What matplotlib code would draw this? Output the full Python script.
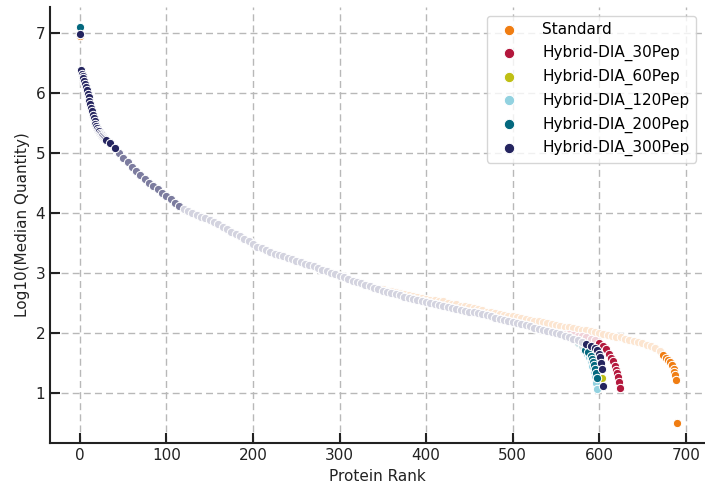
import matplotlib.pyplot as plt
from matplotlib.colors import to_rgb
import numpy as np


series_names = ['Standard', 'Hybrid-DIA_30Pep', 'Hybrid-DIA_60Pep',
                'Hybrid-DIA_120Pep', 'Hybrid-DIA_200Pep', 'Hybrid-DIA_300Pep']
series_colors = ['#F07D12', '#B3173C', '#BFBF14', '#92D2E0', '#03687E', '#24245F']

# value of the rank-0 protein for each series
first_value = [6.95, 6.98, 6.98, 6.98, 7.10, 6.98]

# shared steep head, ranks 1..29
head_rank = list(range(1, 30))
head_value = [6.38, 6.32, 6.28, 6.24, 6.19, 6.14, 6.09, 6.04, 5.98, 5.93,
              5.87, 5.81, 5.75, 5.69, 5.63, 5.58, 5.53, 5.48, 5.44, 5.41,
              5.38, 5.36, 5.34, 5.32, 5.30, 5.28, 5.27, 5.25, 5.24]

# shared body read every 5 ranks (30..570)
body_rank = list(range(30, 571, 5))
body_value = [5.22, 5.16, 5.09, 5.00, 4.92, 4.85, 4.77, 4.70, 4.63, 4.56,
              4.50, 4.45, 4.40, 4.34, 4.29, 4.23, 4.17, 4.12, 4.07, 4.03,
              4.00, 3.97, 3.94, 3.91, 3.88, 3.85, 3.81, 3.77, 3.73, 3.69,
              3.65, 3.61, 3.57, 3.53, 3.48, 3.44, 3.41, 3.38, 3.35, 3.32,
              3.30, 3.28, 3.26, 3.24, 3.21, 3.19, 3.16, 3.14, 3.12, 3.09,
              3.06, 3.03, 3.00, 2.98, 2.96, 2.93, 2.90, 2.87, 2.85, 2.83,
              2.81, 2.79, 2.76, 2.74, 2.71, 2.69, 2.67, 2.65, 2.63, 2.61,
              2.59, 2.57, 2.56, 2.54, 2.52, 2.50, 2.49, 2.47, 2.45, 2.43,
              2.42, 2.40, 2.39, 2.37, 2.36, 2.35, 2.33, 2.32, 2.30, 2.28,
              2.26, 2.24, 2.22, 2.21, 2.19, 2.17, 2.16, 2.14, 2.12, 2.09,
              2.07, 2.05, 2.04, 2.02, 2.01, 1.99, 1.96, 1.93, 1.90]

# last body rank used by each series before its own tail
body_end = [345, 550, 570, 570, 570, 570]

std_tail_rank = list(range(350, 671, 5)) + [674, 677, 680, 682, 684, 686, 687, 688, 689, 690]
std_tail_value = [2.73, 2.71, 2.70, 2.68, 2.67, 2.65, 2.63, 2.62, 2.60, 2.59,
                  2.57, 2.56, 2.55, 2.54, 2.53, 2.51, 2.49, 2.48, 2.46, 2.45,
                  2.43, 2.42, 2.40, 2.38, 2.36, 2.35, 2.33, 2.32, 2.30, 2.29,
                  2.28, 2.27, 2.25, 2.24, 2.22, 2.21, 2.20, 2.18, 2.17, 2.15,
                  2.14, 2.12, 2.11, 2.10, 2.08, 2.07, 2.06, 2.05, 2.03, 2.02,
                  2.01, 1.99, 1.97, 1.96, 1.94, 1.93, 1.91, 1.89, 1.87, 1.85,
                  1.83, 1.81, 1.78, 1.75, 1.70,
                  1.64, 1.59, 1.55, 1.52, 1.47, 1.40, 1.35, 1.30, 1.23, 0.50]

pep30_tail_rank = [555, 560, 565, 570, 575, 580, 585, 590, 595, 600, 605,
                   608, 611, 614, 616, 618, 620, 621, 622, 623, 624]
pep30_tail_value = [2.00, 1.99, 1.98, 1.97, 1.96, 1.95, 1.93, 1.91, 1.88, 1.84, 1.79,
                    1.73, 1.66, 1.59, 1.53, 1.46, 1.39, 1.33, 1.27, 1.19, 1.09]

pep60_tail_rank = [575, 580, 585, 590, 594, 597, 599, 601, 603]
pep60_tail_value = [1.88, 1.85, 1.81, 1.76, 1.68, 1.56, 1.45, 1.35, 1.25]

pep120_tail_rank = [575, 580, 583, 586, 588, 590, 592, 594, 595, 596, 597]
pep120_tail_value = [1.85, 1.78, 1.72, 1.65, 1.60, 1.53, 1.45, 1.36, 1.28, 1.18, 1.07]

pep200_tail_rank = [575, 580, 584, 587, 590, 592, 593, 594, 595, 596, 597]
pep200_tail_value = [1.84, 1.78, 1.72, 1.68, 1.62, 1.57, 1.52, 1.47, 1.41, 1.34, 1.26]

pep300_tail_rank = [575, 580, 585, 590, 595, 598, 600, 601, 602, 603, 604]
pep300_tail_value = [1.88, 1.85, 1.82, 1.79, 1.76, 1.72, 1.66, 1.61, 1.50, 1.40, 1.12]

tails = [(std_tail_rank, std_tail_value), (pep30_tail_rank, pep30_tail_value),
         (pep60_tail_rank, pep60_tail_value), (pep120_tail_rank, pep120_tail_value),
         (pep200_tail_rank, pep200_tail_value), (pep300_tail_rank, pep300_tail_value)]

# ranks where the overplotted band turns back into separate dots
thin_from = [672, 596, 582, 582, 582, 584]


def tint(color, f):
    '''mix a colour with white; f=1 keeps the colour'''
    c = np.array(to_rgb(color))
    return tuple(f * c + (1 - f))


def main():
    plt.rcParams['font.family'] = ['DejaVu Sans']
    fig, ax = plt.subplots(figsize=(7.05, 4.93), dpi=100)
    fig.subplots_adjust(left=0.071, right=1.0, bottom=0.101, top=0.986)

    for i, name in enumerate(series_names):
        color = series_colors[i]
        tr, tv = tails[i]
        n_body = sum(1 for r in body_rank if r <= body_end[i])
        rank = np.array([0] + head_rank + body_rank[:n_body] + tr)
        value = np.array([first_value[i]] + head_value + body_value[:n_body] + tv)

        # the original is so overplotted that white marker rims wash the band out;
        # mimic that with paler fills along the shallow part of the curve
        upper = (rank >= 45) & (rank < 120)
        flat = (rank >= 120) & (rank < thin_from[i])
        solid = ~(upper | flat)
        ax.scatter(rank[upper], value[upper], s=36, color=tint(color, 0.6),
                   edgecolor='white', linewidth=0.75, zorder=3 + i)
        ax.scatter(rank[flat], value[flat], s=36, color=tint(color, 0.2),
                   edgecolor='white', linewidth=0.75, zorder=3 + i)
        ax.scatter(rank[solid], value[solid], s=36, color=color,
                   edgecolor='white', linewidth=0.75, label=name, zorder=3 + i)

    ax.set_xlim(-34.5, 722.3)
    ax.set_ylim(0.17, 7.43)
    ax.set_xticks([0, 100, 200, 300, 400, 500, 600, 700])
    ax.set_yticks([1, 2, 3, 4, 5, 6, 7])
    ax.grid(True, linestyle='--', color='#b8b8b8', linewidth=1.0, dashes=(5, 3))
    ax.set_axisbelow(True)
    ax.tick_params(direction='in', length=7, width=1.5, labelsize=11, colors='#222222',
                   labelcolor='#222222')
    for side in ['top', 'right']:
        ax.spines[side].set_visible(False)
    for side in ['left', 'bottom']:
        ax.spines[side].set_linewidth(1.5)
        ax.spines[side].set_color('#222222')

    ax.set_xlabel('Protein Rank', fontsize=11, color='#222222')
    ax.set_ylabel('Log10(Median Quantity)', fontsize=11, color='#222222')

    leg = ax.legend(loc='upper right', fontsize=11, markerscale=1.25, frameon=True,
                    borderaxespad=0.6, handletextpad=1.2, labelspacing=0.5)
    leg.get_frame().set_edgecolor('#cccccc')
    leg.get_frame().set_linewidth(1.0)

    plt.savefig('out.png', dpi=100)


if __name__ == '__main__':
    main()
